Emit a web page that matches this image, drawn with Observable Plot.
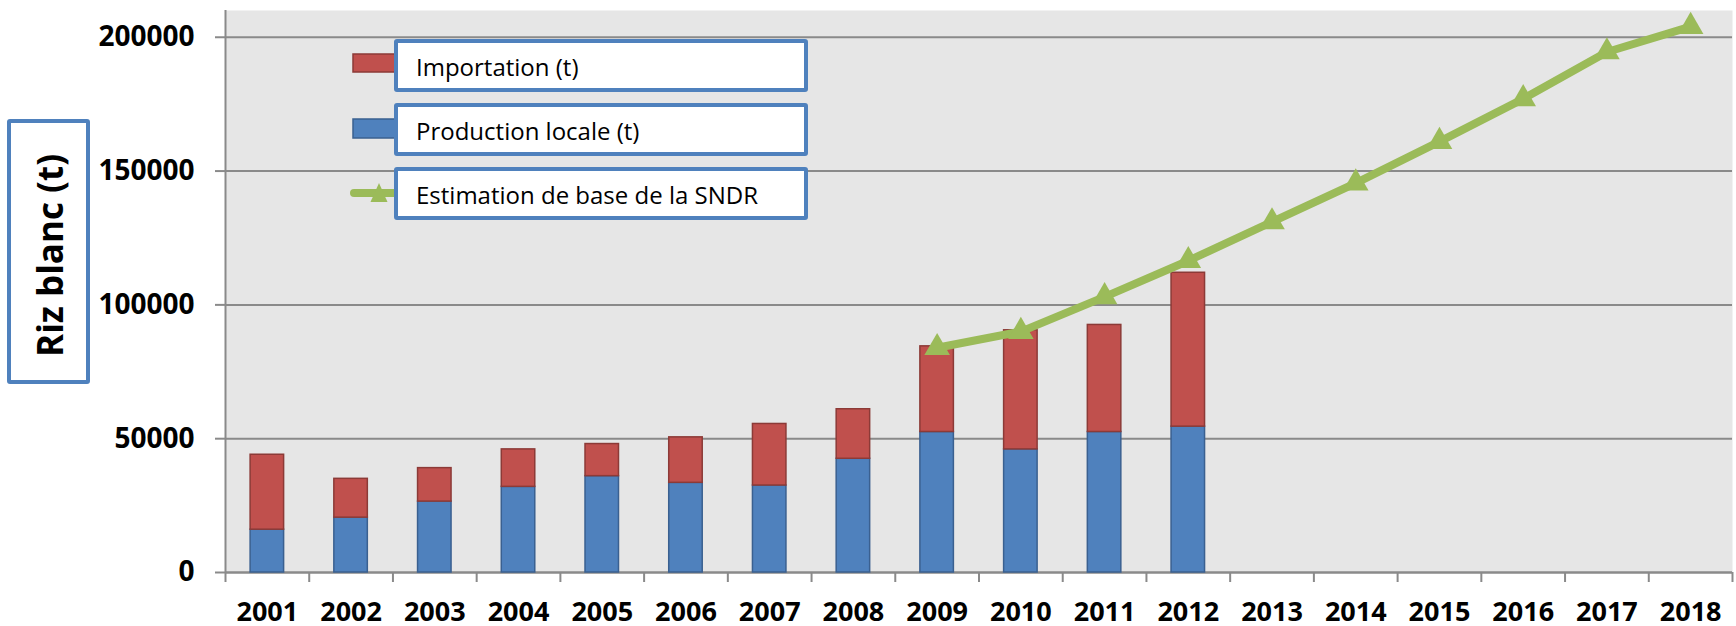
<!DOCTYPE html>
<html>
<head>
<meta charset="utf-8">
<script src="https://cdn.jsdelivr.net/npm/d3@7"></script>
<script src="https://cdn.jsdelivr.net/npm/@observablehq/plot@0.6"></script>
<style>
  html, body { margin: 0; padding: 0; background: #ffffff; }
  #wrap { position: relative; width: 1736px; height: 626px; font-family: "Open Sans", sans-serif; }
  .lbox { position: absolute; box-sizing: border-box; background: #fff; border: 4px solid #4F81BD; border-radius: 3px;
          font-size: 24px; color: #000; display: flex; align-items: center; padding-left: 18px; padding-top: 2px; }
  .sw { position: absolute; }
  #ytitle { position: absolute; box-sizing: border-box; left: 7px; top: 119px; width: 83px; height: 265px;
            background: #fff; border: 4px solid #4F81BD; border-radius: 3px;
            display: flex; align-items: center; justify-content: center; padding-top: 8px; padding-left: 2px; }
  #ytitle span { writing-mode: vertical-rl; transform: rotate(180deg);
                 font-weight: 700; font-size: 35px; white-space: nowrap; line-height: 1; color: #000; }
</style>
</head>
<body>
<div id="wrap"></div>
<script>
// ---- data ----
const barYears = [2001, 2002, 2003, 2004, 2005, 2006, 2007, 2008, 2009, 2010, 2011, 2012];
const production = [16000, 20500, 26500, 32000, 36000, 33500, 32500, 42500, 52500, 46000, 52500, 54500];
const importation = [28000, 14500, 12500, 14000, 12000, 17000, 23000, 18500, 32000, 44500, 40000, 57500];
const lineYears = [2009, 2010, 2011, 2012, 2013, 2014, 2015, 2016, 2017, 2018];
const sndr = [84000, 90000, 103000, 116500, 131000, 145500, 161000, 177000, 194500, 204000];
const allYears = [2001, 2002, 2003, 2004, 2005, 2006, 2007, 2008, 2009, 2010, 2011, 2012, 2013, 2014, 2015, 2016, 2017, 2018];
const yTicks = [0, 50000, 100000, 150000, 200000];
const seriesNames = ["Importation (t)", "Production locale (t)", "Estimation de base de la SNDR"];
const yTitle = "Riz blanc (t)";

const colors = { imp: "#C0504D", prod: "#4F81BD", line: "#9BBB59", impEdge: "#8C3A37", prodEdge: "#3A6090", grid: "#8A8A8A" };

const bars = barYears.map((y, i) => ({ year: y, prod: production[i], imp: importation[i] }));
const lineData = lineYears.map((y, i) => ({ year: y, value: sndr[i] }));
const boundaries = [allYears[0] - 0.5, ...allYears.map(y => y + 0.5)];
const half = 0.2;

const chart = Plot.plot({
  width: 1736,
  height: 626,
  marginTop: 10,
  marginBottom: 54,
  marginLeft: 225,
  marginRight: 4,
  style: { fontFamily: "Open Sans, sans-serif", background: "transparent", overflow: "visible" },
  x: { type: "linear", domain: [boundaries[0], boundaries[boundaries.length - 1]] },
  y: { domain: [0, 210000] },
  marks: [
    Plot.frame({ fill: "#E6E6E6", stroke: null }),
    Plot.gridY(yTicks, { stroke: colors.grid, strokeOpacity: 1, strokeWidth: 2 }),
    Plot.axisY({ ticks: yTicks, tickFormat: d => String(d), tickSize: 10, tickPadding: 21, label: null,
                 stroke: colors.grid, strokeWidth: 2, fill: "#000", fontSize: 28, fontWeight: 700 }),
    Plot.axisX({ ticks: boundaries, tickFormat: () => "", tickSize: 10, label: null, stroke: colors.grid, strokeWidth: 2 }),
    Plot.axisX({ ticks: allYears, tickFormat: d => String(d), tickSize: 0, tickPadding: 29, label: null,
                 fill: "#000", fontSize: 27, fontWeight: 700 }),
    Plot.ruleX([boundaries[0]], { stroke: colors.grid, strokeWidth: 2 }),
    Plot.ruleY([0], { stroke: colors.grid, strokeWidth: 2 }),
    Plot.rect(bars, { x1: d => d.year - half, x2: d => d.year + half, y1: 0, y2: "prod",
                      fill: colors.prod, stroke: colors.prodEdge, strokeWidth: 1.5 }),
    Plot.rect(bars, { x1: d => d.year - half, x2: d => d.year + half, y1: "prod", y2: d => d.prod + d.imp,
                      fill: colors.imp, stroke: colors.impEdge, strokeWidth: 1.5 }),
    Plot.line(lineData, { x: "year", y: "value", stroke: colors.line, strokeWidth: 8, strokeLinejoin: "round", strokeLinecap: "round" }),
    Plot.dot(lineData, { x: "year", y: "value", symbol: "triangle", r: 9.5, fill: colors.line, stroke: null })
  ]
});

const wrap = document.getElementById("wrap");
wrap.appendChild(chart);
chart.style.position = "absolute";
chart.style.left = "0";
chart.style.top = "0";

// ---- legend (overlaid in the plot area, as in the original) ----
function add(html) { wrap.insertAdjacentHTML("beforeend", html); }
add(`<svg class="sw" style="left:350px;top:50px" width="60" height="160">
  <rect x="3" y="4" width="52" height="18" fill="${colors.imp}" stroke="${colors.impEdge}" stroke-width="1.5"/>
  <rect x="3" y="69" width="52" height="19" fill="${colors.prod}" stroke="${colors.prodEdge}" stroke-width="1.5"/>
  <line x1="4" y1="143" x2="56" y2="143" stroke="${colors.line}" stroke-width="8" stroke-linecap="round"/>
  <path d="M29,133 L37.5,152 L20.5,152 Z" fill="${colors.line}"/>
</svg>`);
const tops = [39, 103, 167];
seriesNames.forEach((name, i) => {
  add(`<div class="lbox" style="left:394px;top:${tops[i]}px;width:414px;height:53px">${name}</div>`);
});
add(`<div id="ytitle"><span>${yTitle}</span></div>`);
</script>
</body>
</html>
